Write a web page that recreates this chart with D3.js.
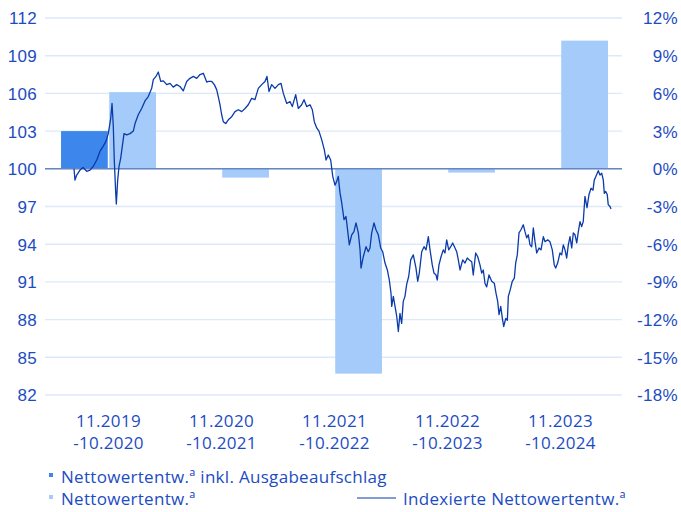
<!DOCTYPE html>
<html>
<head>
<meta charset="utf-8">
<script src="https://cdn.jsdelivr.net/npm/d3@7"></script>
<style>
  html, body { margin: 0; padding: 0; background: #fff; }
  svg { display: block; font-family: "Open Sans", sans-serif; }
  .tick text, .lbl { fill: #1c4cc2; font-size: 17px; font-weight: 400; letter-spacing: 0.3px; }
</style>
</head>
<body>
<svg id="chart" width="681" height="512"></svg>
<script>
// Perioden (Balken) und Werte in %
const periodStart = ["11.2019", "11.2020", "11.2021", "11.2022", "11.2023"];
const periodEnd = ["-10.2020", "-10.2021", "-10.2022", "-10.2023", "-10.2024"];
const netInclFee = [3.0, null, null, null, null];
const netReturn = [6.1, -0.7, -16.3, -0.3, 10.2];

const leftTicks = [82, 85, 88, 91, 94, 97, 100, 103, 106, 109, 112];
const rightTicks = [-18, -15, -12, -9, -6, -3, 0, 3, 6, 9, 12];

// Indexierte Nettowertentwicklung: [Monate seit 11.2019, Indexwert]
const navSeries = [
  [0.00, 100.0], [0.11, 99.1], [0.30, 99.5], [0.67, 99.9], [1.01, 100.1], [1.42, 99.8],
  [1.79, 99.9], [2.16, 100.2], [2.54, 100.7], [2.91, 101.4], [3.27, 101.8], [3.58, 102.2],
  [3.83, 102.8], [4.10, 104.0], [4.25, 105.2], [4.39, 103.4], [4.50, 100.7], [4.66, 98.1],
  [4.73, 97.2], [4.88, 99.1], [5.03, 100.2], [5.22, 100.85], [5.40, 101.8], [5.59, 102.8],
  [5.89, 102.7], [6.26, 102.8], [6.63, 103.0], [6.82, 103.6], [7.18, 104.3], [7.56, 104.8],
  [7.93, 105.4], [8.30, 105.75], [8.68, 106.4], [8.86, 107.1], [9.16, 107.35], [9.42, 107.7],
  [9.69, 106.95], [9.98, 107.0], [10.36, 106.7], [10.73, 106.8], [11.09, 106.5], [11.47, 106.7],
  [11.84, 106.55], [12.21, 106.2], [12.59, 106.95], [12.96, 107.2], [13.33, 107.35], [13.71, 107.2],
  [14.08, 107.5], [14.45, 107.6], [14.83, 106.9], [15.01, 106.95], [15.39, 106.95], [15.68, 106.7],
  [15.94, 106.3], [16.12, 105.75], [16.31, 105.1], [16.50, 104.3], [16.68, 103.75], [16.95, 103.6],
  [17.24, 103.9], [17.62, 104.15], [17.99, 104.55], [18.36, 104.7], [18.74, 104.55], [19.11, 104.8],
  [19.47, 105.1], [19.85, 105.6], [20.22, 105.5], [20.59, 106.4], [20.97, 106.7], [21.34, 106.95],
  [21.56, 107.35], [21.79, 106.15], [22.09, 106.7], [22.46, 106.4], [22.83, 106.7], [23.13, 106.8],
  [23.39, 106.0], [23.77, 105.2], [24.13, 105.35], [24.39, 104.95], [24.77, 105.9], [25.06, 104.8],
  [25.44, 105.1], [25.70, 105.5], [26.00, 104.95], [26.37, 105.1], [26.63, 104.7], [26.85, 103.75],
  [27.12, 103.25], [27.37, 103.0], [27.68, 102.3], [27.97, 101.5], [28.16, 100.7], [28.41, 101.1],
  [28.68, 100.7], [28.91, 99.4], [29.16, 98.7], [29.35, 99.0], [29.53, 99.4], [29.72, 98.1],
  [29.91, 97.3], [30.17, 95.95], [30.39, 96.2], [30.54, 95.3], [30.76, 93.95], [31.03, 94.75],
  [31.28, 95.0], [31.51, 95.7], [31.77, 94.9], [31.96, 93.55], [32.07, 92.1], [32.32, 93.0],
  [32.63, 93.8], [32.88, 93.4], [33.07, 93.7], [33.26, 94.9], [33.52, 95.7], [33.74, 95.15],
  [34.00, 94.75], [34.27, 93.7], [34.49, 93.4], [34.75, 92.5], [35.01, 91.95], [35.23, 91.15],
  [35.42, 90.1], [35.50, 89.05], [35.68, 89.85], [35.87, 89.05], [36.06, 88.25], [36.24, 87.05],
  [36.42, 88.5], [36.61, 87.7], [36.79, 89.45], [36.98, 89.85], [37.17, 90.8], [37.40, 91.45],
  [37.62, 92.75], [37.91, 93.15], [38.10, 92.5], [38.21, 92.1], [38.40, 91.05], [38.58, 91.7],
  [38.85, 93.4], [39.11, 93.8], [39.33, 93.55], [39.59, 94.6], [39.78, 93.55], [40.03, 92.35],
  [40.22, 91.7], [40.45, 91.55], [40.59, 91.15], [40.78, 92.35], [41.01, 93.0], [41.26, 93.55],
  [41.45, 93.3], [41.64, 94.35], [41.87, 93.55], [42.09, 93.8], [42.31, 94.1], [42.57, 93.7],
  [42.76, 93.4], [42.94, 92.75], [43.13, 91.95], [43.43, 92.75], [43.69, 92.5], [43.94, 92.9],
  [44.17, 92.75], [44.44, 92.6], [44.61, 91.55], [44.88, 93.3], [45.11, 93.0], [45.36, 92.35],
  [45.55, 91.7], [45.73, 91.95], [45.92, 90.9], [46.11, 90.6], [46.37, 91.55], [46.67, 91.05],
  [46.96, 90.9], [47.15, 90.1], [47.34, 89.45], [47.49, 88.4], [47.68, 89.05], [47.86, 88.1],
  [48.01, 87.45], [48.24, 88.1], [48.42, 87.95], [48.53, 89.85], [48.75, 90.4], [48.97, 91.05],
  [49.20, 91.3], [49.35, 92.5], [49.53, 93.15], [49.72, 94.9], [49.94, 95.15], [50.20, 95.55],
  [50.39, 95.0], [50.58, 94.5], [50.76, 94.75], [50.95, 93.95], [51.14, 93.8], [51.32, 95.3],
  [51.51, 94.2], [51.70, 93.3], [51.96, 93.7], [52.18, 93.55], [52.44, 94.6], [52.63, 94.2],
  [52.93, 94.35], [53.18, 94.2], [53.44, 93.55], [53.66, 92.35], [53.82, 92.1], [54.04, 92.5],
  [54.30, 93.3], [54.49, 93.15], [54.67, 93.95], [54.86, 93.55], [55.05, 92.9], [55.23, 93.95],
  [55.42, 94.6], [55.61, 93.7], [55.79, 94.9], [55.98, 94.75], [56.17, 94.1], [56.35, 95.0],
  [56.54, 95.8], [56.72, 95.4], [56.90, 95.8], [57.09, 97.8], [57.32, 96.9], [57.54, 97.95],
  [57.77, 98.45], [57.99, 98.3], [58.13, 99.1], [58.32, 99.4], [58.58, 99.85], [58.77, 99.5],
  [58.96, 99.65], [59.14, 99.1], [59.25, 98.05], [59.41, 98.2], [59.58, 97.95], [59.69, 97.15],
  [59.89, 97.0], [60.00, 96.8]
];

const legendBars = [
  { label: "Nettowertentw.ª inkl. Ausgabeaufschlag", color: "#3c86ec" },
  { label: "Nettowertentw.ª", color: "#a4cbf9" }
];
const legendLine = "Indexierte Nettowertentw.ª";

const svg = d3.select("#chart");
const plotLeft = 45, plotRight = 622, plotTop = 18, plotBottom = 395;

const yLeft = d3.scaleLinear().domain([82, 112]).range([plotBottom, plotTop]);
const yRight = d3.scaleLinear().domain([-18, 12]).range([plotBottom, plotTop]);

const x0 = d3.scaleBand().domain(periodStart).range([52, 617]).paddingInner(0.16).paddingOuter(0.08);
const x1 = d3.scaleBand().domain(["incl", "net"]).range([0, x0.bandwidth()]).paddingInner(0.03);
const xLine = d3.scaleLinear().domain([0, 60]).range([74, 611]);

// Gitterlinien
svg.append("g")
    .selectAll("line")
    .data(leftTicks)
    .enter().append("line")
    .attr("x1", plotLeft).attr("x2", plotRight)
    .attr("y1", d => yLeft(d)).attr("y2", d => yLeft(d))
    .attr("stroke", "#dce9f9")
    .attr("stroke-width", 1.4);

// Achsen
const leftAxis = svg.append("g")
    .attr("transform", `translate(${plotLeft - 8},0)`)
    .call(d3.axisLeft(yLeft).tickValues(leftTicks).tickSize(0).tickPadding(0));
leftAxis.select(".domain").remove();

const rightAxis = svg.append("g")
    .attr("transform", `translate(678,0)`)
    .call(d3.axisLeft(yRight).tickValues(rightTicks).tickSize(0).tickPadding(0)
        .tickFormat(d => (d < 0 ? "-" + Math.abs(d) : d) + "%"));
rightAxis.select(".domain").remove();

svg.selectAll(".tick text").attr("dy", "0.35em");

// Balken
const groups = svg.append("g").selectAll("g")
    .data(periodStart)
    .enter().append("g")
    .attr("transform", d => `translate(${x0(d)},0)`);

groups.append("rect")
    .filter((d, i) => netInclFee[i] != null)
    .attr("x", x1("incl"))
    .attr("width", x1.bandwidth())
    .attr("y", d => yRight(Math.max(0, netInclFee[periodStart.indexOf(d)])))
    .attr("height", d => Math.abs(yRight(netInclFee[periodStart.indexOf(d)]) - yRight(0)))
    .attr("fill", legendBars[0].color);

groups.append("rect")
    .attr("x", x1("net"))
    .attr("width", x1.bandwidth())
    .attr("y", (d, i) => yRight(Math.max(0, netReturn[i])))
    .attr("height", (d, i) => Math.abs(yRight(netReturn[i]) - yRight(0)))
    .attr("fill", legendBars[1].color);

// Nulllinie
svg.append("line")
    .attr("x1", plotLeft).attr("x2", plotRight)
    .attr("y1", yRight(0)).attr("y2", yRight(0))
    .attr("stroke", "#6885c2")
    .attr("stroke-width", 1.5);

// Linie
svg.append("path")
    .datum(navSeries)
    .attr("fill", "none")
    .attr("stroke", "#0b3aaa")
    .attr("stroke-width", 1.3)
    .attr("stroke-linejoin", "round")
    .attr("d", d3.line().x(d => xLine(d[0])).y(d => yLeft(d[1])));

// X-Beschriftung
const xLabels = svg.append("g").selectAll("text")
    .data(periodStart)
    .enter().append("text")
    .attr("class", "lbl")
    .attr("text-anchor", "middle")
    .attr("x", d => x0(d) + x0.bandwidth() / 2)
    .attr("y", 427);
xLabels.append("tspan").text(d => d);
xLabels.append("tspan")
    .attr("x", d => x0(d) + x0.bandwidth() / 2)
    .attr("dy", 22)
    .text((d, i) => periodEnd[i]);

// Legende
const legend = svg.append("g");
legendBars.forEach((item, i) => {
    legend.append("rect")
        .attr("x", 49).attr("y", 473 + i * 22)
        .attr("width", 4).attr("height", 4)
        .attr("fill", item.color);
    legend.append("text")
        .attr("class", "lbl")
        .attr("x", 61).attr("y", 483 + i * 22)
        .text(item.label);
});
legend.append("line")
    .attr("x1", 357).attr("x2", 396)
    .attr("y1", 498).attr("y2", 498)
    .attr("stroke", "#0b3aaa")
    .attr("stroke-width", 1.2);
legend.append("text")
    .attr("class", "lbl")
    .attr("x", 403).attr("y", 505)
    .text(legendLine);
</script>
</body>
</html>
